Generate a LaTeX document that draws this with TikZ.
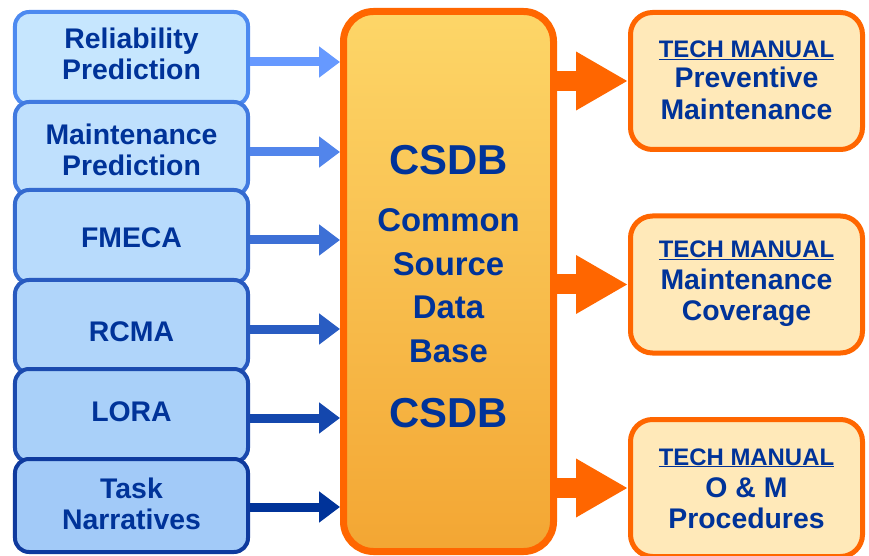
\documentclass[tikz,border=0pt]{standalone}
\usepackage{fontspec}
\setmainfont{Liberation Sans}
\usetikzlibrary{arrows.meta}
\definecolor{lfA}{HTML}{C6E6FE}
\definecolor{lfB}{HTML}{A2CAF8}
\definecolor{lbA}{HTML}{4D8AF0}
\definecolor{lbB}{HTML}{0F3A9E}
\definecolor{laA}{HTML}{6699FF}
\definecolor{laB}{HTML}{003399}
\definecolor{txtblue}{HTML}{003399}
\definecolor{orng}{HTML}{FF6600}
\definecolor{csdbtop}{HTML}{FDD668}
\definecolor{csdbbot}{HTML}{F3A633}
\definecolor{rfill}{HTML}{FFE9B9}
\begin{document}
\begin{tikzpicture}[x=1bp,y=-1bp,
  lbox/.style={line width=4bp, rounded corners=14bp, minimum width=233bp, minimum height=93bp, inner sep=0pt},
  ltext/.style={text=txtblue, font=\fontsize{28.5}{31}\selectfont\bfseries, align=center, inner sep=0pt},
  larrow/.style={line width=9bp, -{Triangle[length=21bp,width=30bp]}},
  ctext/.style={text=txtblue, font=\fontsize{33}{36}\selectfont\bfseries, inner sep=0pt, anchor=base},
  cbig/.style={text=txtblue, font=\fontsize{42}{44}\selectfont\bfseries, inner sep=0pt, anchor=base},
  rbox/.style={draw=orng, fill=rfill, line width=5bp, rounded corners=22bp, minimum width=232bp, minimum height=137bp, inner sep=0pt},
  rhead/.style={text=txtblue, font=\fontsize{24}{26}\selectfont\bfseries, inner sep=0pt, anchor=base},
  rtext/.style={text=txtblue, font=\fontsize{28.5}{31}\selectfont\bfseries, inner sep=0pt, anchor=base},
  rarrow/.style={orng, line width=20bp, -{Triangle[length=52bp,width=55bp]}}
]
\useasboundingbox (0,0) rectangle (869,556);

% central box
\node[draw=orng, line width=7bp, rounded corners=30bp, top color=csdbtop, bottom color=csdbbot,
      minimum width=210bp, minimum height=540bp, inner sep=0pt] (csdb) at (448.5,281.5) {};
\node[cbig] (c1) at (448.5,175) {CSDB};
\node[ctext] (c2) at (448.5,232) {Common};
\node[ctext] (c3) at (448.5,275.5) {Source};
\node[ctext] (c4) at (448.5,319) {Data};
\node[ctext] (c5) at (448.5,362) {Base};
\node[cbig] (c6) at (448.5,427) {CSDB};

% left boxes
\node[lbox, fill=lfA, draw=lbA] (b1) at (131.5,58.5) {};
\node[ltext] (t1) at (131.5,53.5) {Reliability\\Prediction};
\node[lbox, fill=lfA!80!lfB, draw=lbA!80!lbB] (b2) at (131.5,148.5) {};
\node[ltext] (t2) at (131.5,150) {Maintenance\\Prediction};
\node[lbox, fill=lfA!60!lfB, draw=lbA!60!lbB] (b3) at (131.5,236.5) {};
\node[ltext] (t3) at (131.5,237.8) {FMECA};
\node[lbox, fill=lfA!40!lfB, draw=lbA!40!lbB] (b4) at (131.5,326.5) {};
\node[ltext] (t4) at (131.5,332) {RCMA};
\node[lbox, fill=lfA!20!lfB, draw=lbA!20!lbB] (b5) at (131.5,415.5) {};
\node[ltext] (t5) at (131.5,412) {LORA};
\node[lbox, fill=lfB, draw=lbB] (b6) at (131.5,505.5) {};
\node[ltext] (t6) at (131.5,503.5) {Task\\Narratives};

% left arrows
\draw[larrow, laA] ([yshift=-3.5bp]b1.east) -- ([yshift=-3.5bp]csdb.west |- b1.east);
\draw[larrow, laA!80!laB] ([yshift=-3.5bp]b2.east) -- ([yshift=-3.5bp]csdb.west |- b2.east);
\draw[larrow, laA!60!laB] ([yshift=-3.5bp]b3.east) -- ([yshift=-3.5bp]csdb.west |- b3.east);
\draw[larrow, laA!40!laB] ([yshift=-2.5bp]b4.east) -- ([yshift=-2.5bp]csdb.west |- b4.east);
\draw[larrow, laA!20!laB] ([yshift=-2.5bp]b5.east) -- ([yshift=-2.5bp]csdb.west |- b5.east);
\draw[larrow, laB] ([yshift=-1.5bp]b6.east) -- ([yshift=-1.5bp]csdb.west |- b6.east);

% right boxes
\node[rbox] (r1) at (746.5,81) {};
\node[rhead] (r1a) at (746.5,58) {\underline{TECH MANUAL}};
\node[rtext] (r1b) at (746.5,88) {Preventive};
\node[rtext] (r1c) at (746.5,120) {Maintenance};

\node[rbox] (r2) at (746.5,284.5) {};
\node[rhead] (r2a) at (746.5,258) {\underline{TECH MANUAL}};
\node[rtext] (r2b) at (746.5,290) {Maintenance};
\node[rtext] (r2c) at (746.5,321) {Coverage};

\node[rbox] (r3) at (746.5,488) {};
\node[rhead] (r3a) at (746.5,465) {\underline{TECH MANUAL}};
\node[rtext] (r3b) at (746.5,497) {O \& M};
\node[rtext] (r3c) at (746.5,528) {Procedures};

% right arrows
\draw[rarrow] (csdb.east |- r1.west) -- (r1.west);
\draw[rarrow] (csdb.east |- r2.west) -- (r2.west);
\draw[rarrow] (csdb.east |- r3.west) -- (r3.west);
\end{tikzpicture}
\end{document}
